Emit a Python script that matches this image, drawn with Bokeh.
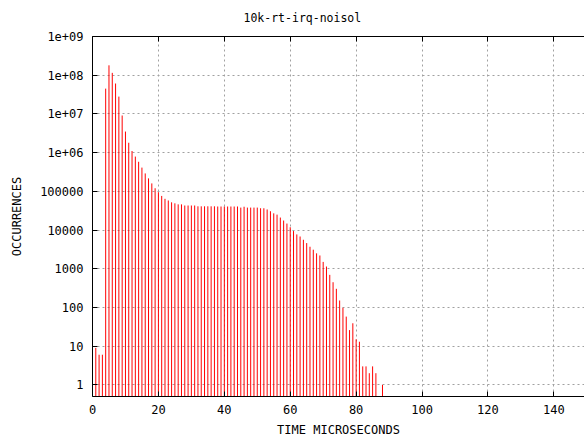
from bokeh.plotting import figure
from bokeh.models import FixedTicker, LinearAxis, Range1d, ColumnDataSource
from bokeh.embed import file_html
from bokeh.resources import INLINE

# ---- data ----
time_us = [1, 2, 3, 4, 5, 6, 7, 8, 9, 10,
           11, 12, 13, 14, 15, 16, 17, 18, 19, 20,
           21, 22, 23, 24, 25, 26, 27, 28, 29, 30,
           31, 32, 33, 34, 35, 36, 37, 38, 39, 40,
           41, 42, 43, 44, 45, 46, 47, 48, 49, 50,
           51, 52, 53, 54, 55, 56, 57, 58, 59, 60,
           61, 62, 63, 64, 65, 66, 67, 68, 69, 70,
           71, 72, 73, 74, 75, 76, 77, 78, 79, 80,
           81, 82, 83, 84, 85, 86, 88]
occurrences = [9, 6, 6, 4.5e7, 1.8e8, 1.15e8, 6.1e7, 2.8e7, 9.1e6, 3.5e6,
               1.8e6, 1.1e6, 7.9e5, 5.8e5, 4.1e5, 2.9e5, 2.16e5, 1.6e5, 1.2e5, 9.5e4,
               7.6e4, 6.4e4, 5.8e4, 5.2e4, 4.9e4, 4.6e4, 4.6e4, 4.3e4, 4.3e4, 4.3e4,
               4.3e4, 4.1e4, 4.1e4, 4.1e4, 4.1e4, 4.1e4, 4.1e4, 4.05e4, 4.05e4, 4.05e4,
               4.05e4, 4.05e4, 4.05e4, 4.05e4, 3.8e4, 4.0e4, 3.8e4, 3.8e4, 3.8e4, 3.8e4,
               3.65e4, 3.65e4, 3.4e4, 3.06e4, 2.7e4, 2.5e4, 2.1e4, 1.76e4, 1.47e4, 1.18e4,
               9.4e3, 7.7e3, 6.8e3, 5.6e3, 4.6e3, 3.7e3, 3.1e3, 2.5e3, 2.2e3, 1.5e3,
               1.14e3, 695, 448, 303, 151, 98, 58, 26, 39, 15,
               13, 3, 3, 2, 3, 2, 1]
x_ticks = [0, 20, 40, 60, 80, 100, 120, 140]
y_ticks = [1, 10, 100, 1000, 10000, 100000, 1e6, 1e7, 1e8, 1e9]
y_tick_labels = ["1", "10", "100", "1000", "10000", "100000",
                 "1e+06", "1e+07", "1e+08", "1e+09"]
title_text = "10k-rt-irq-noisol"
x_label = "TIME MICROSECONDS"
y_label = "OCCURRENCES"

Y_MIN, Y_MAX = 0.5, 1e9
X_MIN, X_MAX = 0, 149.3

FONT = "DejaVu Sans Mono"

src = ColumnDataSource(data=dict(x=time_us, y=occurrences,
                                 base=[Y_MIN] * len(time_us)))

p = figure(width=584, height=439, output_backend="svg", toolbar_location=None,
           x_range=Range1d(X_MIN, X_MAX), y_range=Range1d(Y_MIN, Y_MAX),
           y_axis_type="log", title=title_text,
           min_border_left=92, min_border_right=0, min_border_top=36,
           min_border_bottom=43)

p.outline_line_color = None
p.background_fill_color = "white"
p.border_fill_color = "white"

p.title.text_font = FONT
p.title.text_font_size = "11.5px"
p.title.text_font_style = "normal"
p.title.text_color = "black"
p.title.align = "left"
p.title.offset = 151
p.title.vertical_align = "top"
p.title.standoff = 19

p.segment(x0="x", y0="base", x1="x", y1="y", source=src,
          line_color="#ff0000", line_width=1)

# axes
xa = p.xaxis[0]
xa.ticker = FixedTicker(ticks=x_ticks)
xa.axis_label = x_label
ya = p.yaxis[0]
ya.ticker = FixedTicker(ticks=y_ticks)
ya.major_label_overrides = {v: s for v, s in zip(y_ticks, y_tick_labels)}
ya.axis_label = y_label

for ax in (xa, ya):
    ax.axis_line_color = "black"
    ax.axis_line_width = 1
    ax.major_tick_in = 5
    ax.major_tick_out = 0
    ax.major_tick_line_color = "black"
    ax.minor_tick_in = 0
    ax.minor_tick_out = 0
    ax.major_label_text_font = FONT
    ax.major_label_text_font_size = "12px"
    ax.major_label_text_color = "black"
    ax.axis_label_text_font = FONT
    ax.axis_label_text_font_size = "12px"
    ax.axis_label_text_font_style = "normal"
    ax.axis_label_text_color = "black"

xa.major_label_standoff = 8
xa.axis_label_standoff = 6
ya.major_label_standoff = 9
ya.axis_label_standoff = 13

# top border with mirrored ticks
top = LinearAxis(ticker=FixedTicker(ticks=x_ticks))
top.major_label_overrides = {v: "" for v in x_ticks}
top.major_label_text_font_size = "0px"
top.major_label_standoff = 0
top.major_tick_in = 5
top.major_tick_out = 0
top.minor_tick_in = 0
top.minor_tick_out = 0
top.axis_line_color = "black"
top.major_tick_line_color = "black"
p.add_layout(top, "above")

# grids
p.xgrid.ticker = FixedTicker(ticks=x_ticks)
p.ygrid.ticker = FixedTicker(ticks=y_ticks)
for g in (p.xgrid, p.ygrid):
    g.grid_line_color = "#a0a0a0"
    g.grid_line_dash = "2 3"
    g.grid_line_width = 1

open("out.html", "w").write(file_html(p, INLINE))
